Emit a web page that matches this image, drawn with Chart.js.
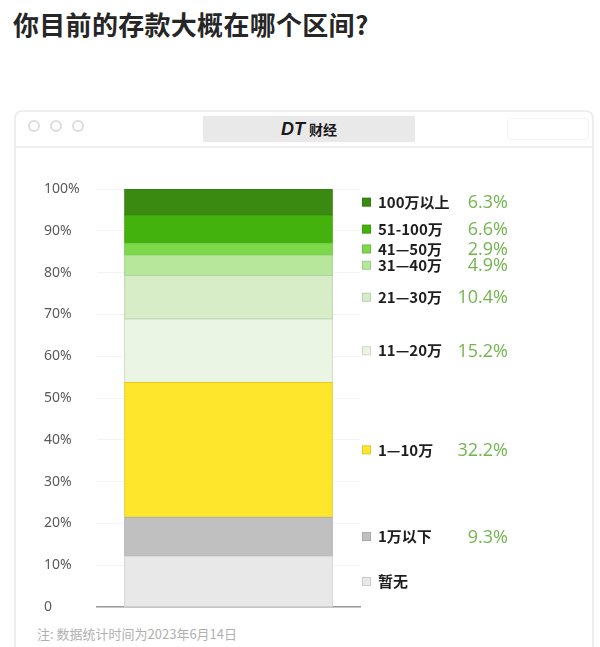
<!DOCTYPE html>
<html>
<head>
<meta charset="utf-8">
<script src="https://cdn.jsdelivr.net/npm/chart.js@4/dist/chart.umd.min.js"></script>
<style>
  html, body { margin: 0; padding: 0; background: #fff; }
  body { width: 600px; height: 647px; position: relative; overflow: hidden; font-family: "Noto Sans CJK SC", "Noto Sans", sans-serif; }
  .title { position: absolute; left: 13px; top: 5px; font-size: 26px; font-weight: 700; color: #262626; letter-spacing: 0.3px; }
  .frame { position: absolute; left: 14px; top: 110px; width: 580px; height: 580px; border: 2px solid #eeeeee; border-radius: 8px; box-sizing: border-box; }
  .bar-line { position: absolute; left: 14px; top: 146px; width: 580px; height: 2px; background: #efefef; }
  .dot { position: absolute; top: 120px; width: 8px; height: 8px; border: 2px solid #dcdcdc; border-radius: 50%; }
  .brand { position: absolute; left: 203px; top: 116px; width: 212px; height: 26px; background: #e9e9e9; text-align: center; line-height: 26px; color: #1a1a1a; font-weight: 700; font-size: 14px; }
  .brand b { font-style: italic; font-size: 18px; font-family: "Liberation Sans", sans-serif; font-weight: 900; margin-right: 4px; }
  .icons { position: absolute; left: 507px; top: 118px; width: 80px; height: 20px; border: 1px solid #f3f3f3; border-radius: 3px; }
  .note { position: absolute; left: 37px; top: 624px; font-size: 13px; color: #b0b0b0; }
  #wrap { position: absolute; left: 0; top: 0; width: 600px; height: 647px; }
</style>
</head>
<body>
<div class="title">你目前的存款大概在哪个区间?</div>
<div class="frame"></div>
<div class="bar-line"></div>
<div class="dot" style="left:28px"></div>
<div class="dot" style="left:50px"></div>
<div class="dot" style="left:72px"></div>
<div class="brand"><b>DT</b>财经</div>
<div class="icons"></div>
<div class="note">注: 数据统计时间为2023年6月14日</div>
<div id="wrap"><canvas id="savingsChart" width="600" height="647"></canvas></div>
<script>
'use strict';

// Data, bottom of the stack first
const bands = ['暂无', '1万以下', '1—10万', '11—20万', '21—30万', '31—40万', '41—50万', '51-100万', '100万以上'];
const shares = [12.2, 9.3, 32.2, 15.2, 10.4, 4.9, 2.9, 6.6, 6.3];
const shareLabels = ['', '9.3%', '32.2%', '15.2%', '10.4%', '4.9%', '2.9%', '6.6%', '6.3%'];
const yTicks = [0, 10, 20, 30, 40, 50, 60, 70, 80, 90, 100];

const bandColors = ['#e8e8e8', '#c0c0c0', '#fde62c', '#ebf5e3', '#d6edc7', '#b6e79b', '#7bd94a', '#44b20c', '#3a8a12'];
const bandEdges = ['#cfcfcf', '#adadad', '#e3cc22', '#cbd8c2', '#b7cfa8', '#9ccf83', '#6cc23f', '#3d9e0b', '#347c10'];

// Labels to the right of the bar, each set at the middle of its segment
const sideLabels = {
    id: 'sideLabels',
    afterDatasetsDraw(chart) {
        const ctx = chart.ctx;
        const y = chart.scales.y;
        let base = 0;
        chart.data.datasets.forEach(function (ds, i) {
            const v = ds.data[0];
            const py = y.getPixelForValue(base + v / 2);
            base += v;
            ctx.save();
            ctx.fillStyle = ds.backgroundColor;
            ctx.fillRect(362, py - 4.5, 9, 9);
            ctx.strokeStyle = 'rgba(0,0,0,0.12)';
            ctx.lineWidth = 1;
            ctx.strokeRect(362.5, py - 4, 8, 8);
            ctx.textBaseline = 'middle';
            ctx.fillStyle = '#1e1e1e';
            ctx.font = 'bold 15px "Noto Sans CJK SC", sans-serif';
            ctx.textAlign = 'left';
            ctx.fillText(ds.label, 378, py);
            ctx.fillStyle = '#72b54e';
            ctx.font = '18px "Open Sans", "Noto Sans", sans-serif';
            ctx.textAlign = 'right';
            ctx.fillText(shareLabels[i], 508, py + 1);
            ctx.restore();
        });
    }
};

const savingsChart = new Chart(document.getElementById('savingsChart'), {
    type: 'bar',
    data: {
        labels: ['存款'],
        datasets: bands.map(function (name, i) {
            return {
                label: name,
                data: [shares[i]],
                backgroundColor: bandColors[i],
                borderColor: bandEdges[i],
                borderWidth: 1,
                borderSkipped: false,
                inflateAmount: 0.5,
                categoryPercentage: 1,
                barPercentage: 0.79
            };
        })
    },
    options: {
        responsive: false,
        animation: false,
        layout: {
            padding: { left: 44, top: 189, right: 240, bottom: 40 }
        },
        plugins: {
            legend: { display: false },
            tooltip: { enabled: false }
        },
        scales: {
            x: {
                stacked: true,
                grid: { display: false },
                ticks: { display: false },
                border: { display: true, color: '#9c9c9c', width: 1.5 },
                afterFit: function (s) { s.height = 0; }
            },
            y: {
                stacked: true,
                min: 0,
                max: 100,
                afterBuildTicks: function (s) {
                    s.ticks = yTicks.map(function (v) { return { value: v }; });
                },
                grid: { color: '#f3f3f3', drawTicks: false },
                border: { display: false },
                ticks: {
                    color: '#5a5a5a',
                    crossAlign: 'far',
                    padding: 0,
                    font: { size: 14, family: '"Noto Sans", "Open Sans", sans-serif' },
                    callback: function (v) { return v === 0 ? '0' : v + '%'; }
                },
                afterFit: function (s) { s.width = 53; }
            }
        }
    },
    plugins: [sideLabels]
});
</script>
</body>
</html>
